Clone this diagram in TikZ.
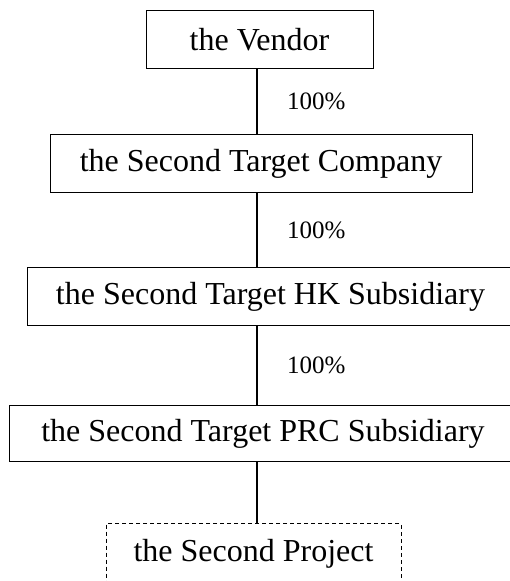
\documentclass[tikz,border=0pt]{standalone}
\usepackage{fontspec}
\setmainfont{Liberation Serif}
\usepackage{tikz}
\usetikzlibrary{positioning}

\begin{document}
\begin{tikzpicture}
        [ entity node/.style = {draw=black,line width=0.5pt,minimum height=29pt,
                                font=\fontsize{16}{19}\selectfont},
          project node/.style = {entity node,dash pattern=on 2pt off 1.5pt,
                                 minimum height=30pt},
          share label/.style = {midway,anchor=west,inner sep=0pt,xshift=14.5pt,
                                font=\fontsize{12.5}{15}\selectfont},
          holding/.style = {line width=1pt}]
        \useasboundingbox (0,0) rectangle (254.5pt,-290.5pt);
        \coordinate (axis) at (128.5pt,0);
        \node[entity node,minimum width=113.5pt] (vendor) at (129.75pt,-19.75pt) {the Vendor};
        \node[entity node,minimum width=211pt,below=32.5pt of vendor,xshift=0.75pt]
            (company) {the Second Target Company};
        \node[entity node,minimum width=243.5pt,below=37pt of company,xshift=4.75pt]
            (hk) {the Second Target HK Subsidiary};
        \node[entity node,minimum width=254pt,minimum height=28pt,below=39.5pt of hk,xshift=-3.75pt]
            (prc) {the Second Target PRC Subsidiary};
        \node[project node,minimum width=147.5pt,below=30.5pt of prc,xshift=-4.75pt]
            (project) {the Second Project};
        % shareholdings
        \draw[holding] (vendor.south -| axis) -- (company.north -| axis)
            node[share label] {100\%};
        \draw[holding] (company.south -| axis) -- (hk.north -| axis)
            node[share label] {100\%};
        \draw[holding] (hk.south -| axis) -- (prc.north -| axis)
            node[share label] {100\%};
        \draw[holding] (prc.south -| axis) -- (project.north -| axis);
    \end{tikzpicture}
\end{document}
